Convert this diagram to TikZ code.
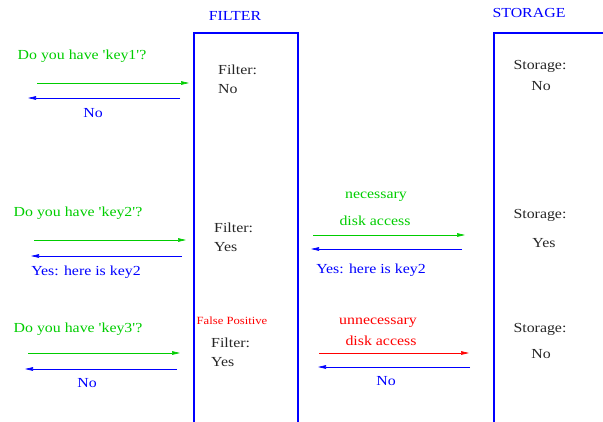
\documentclass[tikz,border=0pt]{standalone}
\usepackage{fontspec}
\setmainfont{Liberation Serif}[FakeStretch=1.15, Ligatures=TeXOff]
\usetikzlibrary{arrows.meta}
\definecolor{fgreen}{RGB}{0,205,0}
\definecolor{fblue}{RGB}{0,0,255}
\definecolor{fred}{RGB}{255,0,0}
\tikzset{
  txt/.style={inner sep=0pt, font=\fontsize{13.8}{16}\selectfont},
  gtxt/.style={txt, text=fgreen},
  btxt/.style={txt, text=fblue},
  rtxt/.style={txt, text=fred},
  ktxt/.style={txt, text=black!85},
  lft/.style={anchor=west},
  box/.style={draw=fblue, line width=2pt},
  garrow/.style={draw=fgreen, line width=0.6pt, -{Triangle[length=8pt,width=3.6pt]}},
  barrow/.style={draw=fblue, line width=0.6pt, -{Triangle[length=8pt,width=3.6pt]}},
  rarrow/.style={draw=fred, line width=0.6pt, -{Triangle[length=8pt,width=3.6pt]}},
}
\begin{document}
\begin{tikzpicture}[x=1pt,y=-1pt]
\useasboundingbox (0,0) rectangle (603,421);
\clip (0,0) rectangle (603,421);
% boxes
\draw[box] (194,430) |- (298,33) -- (298,430);
\draw[box] (494,430) |- (620,33);
% headers
\node[btxt] (hfilter) at (235,16) {FILTER};
\node[btxt] (hstorage) at (529,13) {STORAGE};
% row 1
\node[gtxt] (q1) at (82,56) {Do you have 'key1'?};
\coordinate (q1s) at (37,83); \coordinate (q1e) at (189,83);
\draw[garrow] (q1s) -- (q1e);
\coordinate (a1s) at (180,98); \coordinate (a1e) at (28,98);
\draw[barrow] (a1s) -- (a1e);
\node[btxt] (a1) at (93,113) {No};
\node[ktxt,lft] (f1a) at (218,70) {Filter:};
\node[ktxt,lft] (f1b) at (218,89) {No};
\node[ktxt] (s1a) at (540,66) {Storage:};
\node[ktxt] (s1b) at (541,86) {No};
% row 2
\node[gtxt] (q2) at (78,213) {Do you have 'key2'?};
\coordinate (q2s) at (34,240); \coordinate (q2e) at (186,240);
\draw[garrow] (q2s) -- (q2e);
\coordinate (a2s) at (182,256); \coordinate (a2e) at (31,256);
\draw[barrow] (a2s) -- (a2e);
\node[btxt] (a2) at (86,272) {Yes: here is key2};
\node[ktxt,lft] (f2a) at (214,228) {Filter:};
\node[ktxt,lft] (f2b) at (214,247) {Yes};
\node[gtxt] (n2a) at (376,197) {necessary};
\node[gtxt] (n2b) at (375,221) {disk access};
\coordinate (d2s) at (313,235); \coordinate (d2e) at (465,235);
\draw[garrow] (d2s) -- (d2e);
\coordinate (r2s) at (462,249); \coordinate (r2e) at (311,249);
\draw[barrow] (r2s) -- (r2e);
\node[btxt] (r2) at (371,270) {Yes: here is key2};
\node[ktxt] (s2a) at (540,215) {Storage:};
\node[ktxt] (s2b) at (544,243) {Yes};
% row 3
\node[rtxt, font=\fontsize{11}{13}\selectfont] (fp) at (232,321) {False Positive};
\node[gtxt] (q3) at (78,329) {Do you have 'key3'?};
\coordinate (q3s) at (28,353); \coordinate (q3e) at (180,353);
\draw[garrow] (q3s) -- (q3e);
\coordinate (a3s) at (177,369); \coordinate (a3e) at (25,369);
\draw[barrow] (a3s) -- (a3e);
\node[btxt] (a3) at (87,383) {No};
\node[ktxt,lft] (f3a) at (211,343) {Filter:};
\node[ktxt,lft] (f3b) at (211,362) {Yes};
\node[rtxt] (u3a) at (378,323) {unnecessary};
\node[rtxt] (u3b) at (381,341) {disk access};
\coordinate (d3s) at (319,353); \coordinate (d3e) at (469,353);
\draw[rarrow] (d3s) -- (d3e);
\coordinate (r3s) at (470,367); \coordinate (r3e) at (318,367);
\draw[barrow] (r3s) -- (r3e);
\node[btxt] (r3) at (386,381) {No};
\node[ktxt] (s3a) at (540,329) {Storage:};
\node[ktxt] (s3b) at (541,354) {No};
\end{tikzpicture}
\end{document}
